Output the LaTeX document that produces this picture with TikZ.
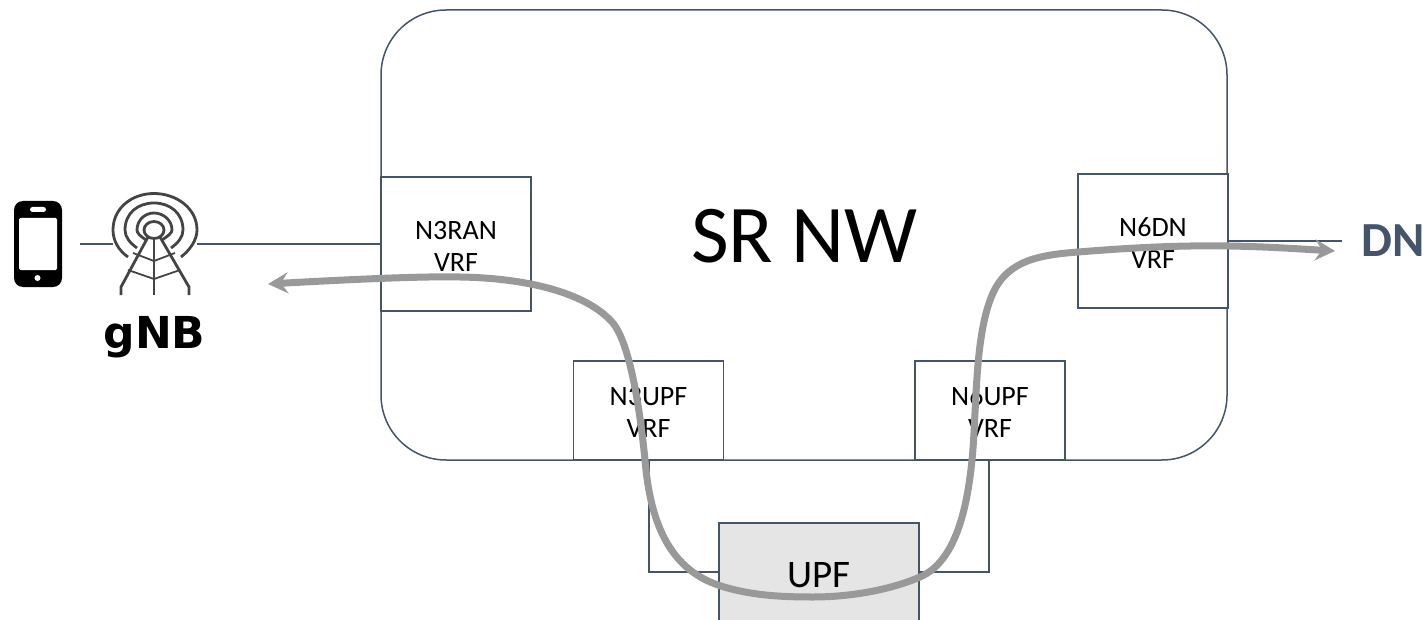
\documentclass[tikz,border=0pt]{standalone}
\usepackage{fontspec}
\setmainfont{Carlito}
\newfontfamily\dejavu{DejaVu Sans}
\usetikzlibrary{arrows.meta}
\definecolor{wire}{HTML}{44546A}
\definecolor{flow}{HTML}{999999}
\definecolor{upfgrey}{HTML}{E5E5E5}
\definecolor{towerc}{HTML}{444444}
\tikzset{
  wireline/.style={draw=wire,line width=1.5pt},
  vrfbox/.style={wireline,fill=white,minimum width=150pt,inner sep=0pt,outer sep=0pt,anchor=north west},
  vrftext/.style={inner sep=0pt,align=center,font=\fontsize{28}{32}\selectfont},
  flowtip/.tip={Stealth[length=20pt,width=21pt,inset=7pt]},
  flowline/.style={draw=flow,line width=7pt,flowtip-flowtip},
  towerline/.style={draw=towerc,line width=2.8pt},
  braceline/.style={draw=towerc,line width=1.8pt},
}
\begin{document}
\begin{tikzpicture}[x=1pt,y=-1pt]
\useasboundingbox (0,0) rectangle (1423,620);
\coordinate (uewire) at (80,244);
\coordinate (gnbleft) at (113,244);
\coordinate (gnbright) at (197,244);
\coordinate (dnwire) at (1342,241);
\coordinate (n3down) at (649,460);
\coordinate (n6down) at (989,460);
\coordinate (upfl) at (719,572);
\coordinate (upfr) at (919,572);
\node[wireline,fill=white,rounded corners=65pt,minimum width=846pt,minimum height=450pt,anchor=north west,inner sep=0pt,outer sep=0pt] (srnw) at (381,10) {};
\node[font=\fontsize{82}{90}\selectfont] (srlabel) at (804.5,236) {SR NW};
\node[vrfbox,minimum height=134pt] (n3ran) at (381,177) {};
\node[vrfbox,minimum height=99pt] (n3upf) at (573.5,361) {};
\node[vrfbox,minimum height=99pt] (n6upf) at (915,361) {};
\node[vrfbox,minimum height=134pt] (n6dn) at (1078,174) {};
\node[vrftext] (n3rantext) at (456,246) {N3RAN\\VRF};
\node[vrftext] (n3upftext) at (648.5,412) {N3UPF\\VRF};
\node[vrftext] (n6upftext) at (990,412) {N6UPF\\VRF};
\node[vrftext] (n6dntext) at (1153,243) {N6DN\\VRF};
\begin{scope}
\clip (0,0) rectangle (1423,620);
\node[wireline,fill=upfgrey,minimum width=200pt,minimum height=120pt,anchor=north west,inner sep=0pt,outer sep=0pt] (upf) at (719,523) {};
\end{scope}
\node[font=\fontsize{39}{44}\selectfont] (upflabel) at (819,575) {UPF};
\draw[wireline] (uewire) -- (gnbleft);
\draw[wireline] (gnbright) -- (n3ran.west |- gnbright);
\draw[wireline] (n6dn.east |- dnwire) -- (dnwire);
\draw[wireline] (n3down) |- (upfl);
\draw[wireline] (n6down) |- (upfr);
% phone
\node[fill=black,rounded corners=9pt,minimum width=48pt,minimum height=86pt,inner sep=0pt] (phone) at (38,244) {};
\fill[white,rounded corners=1.5pt] (19,218) rectangle (57,270);
\fill[white,rounded corners=2.5pt] (30,207) rectangle (46,212);
\fill[white] (37.5,278) circle (3pt);
% tower
\node[minimum size=0pt,inner sep=0pt] (tower) at (154,230) {};
\draw[towerline] (154,230) ellipse (10pt and 8.5pt);
\draw[towerline] (146,240) .. controls (140,236) and (137,233) .. (137,230) .. controls (137,220) and (145,213) .. (154,213) .. controls (163,213) and (172,220) .. (172,230) .. controls (172,233) and (168,236) .. (162,240);
\draw[towerline] (137,248) .. controls (130,243) and (125,237) .. (125,230) .. controls (125,213) and (138,203) .. (154,203) .. controls (170,203) and (183,213) .. (183,230) .. controls (183,237) and (178,243) .. (171,248);
\draw[towerline] (128,257) .. controls (118,250) and (113,240) .. (113,230) .. controls (113,208) and (132,193.5) .. (154,193.5) .. controls (176,193.5) and (197,208) .. (197,230) .. controls (197,240) and (190,250) .. (181,257);
\draw[towerline] (148,237) -- (121,287) -- (121,295);
\draw[towerline] (160,237) -- (189,287) -- (189,295);
\draw[towerline] (154,238) -- (154,295);
\draw[braceline] (133,253) -- (154,261) -- (175,253);
\draw[braceline] (128,270) -- (154,279) -- (180,270);
\node[font=\dejavu\bfseries\fontsize{44}{48}\selectfont] (gnb) at (154.5,337) {gNB};
\node[font=\bfseries\fontsize{49}{52}\selectfont,text=wire,anchor=west,inner sep=0pt] (dn) at (1361,241) {DN};
% flow
\coordinate (flowleft) at (268,284);
\coordinate (flowright) at (1335,251);
\draw[flowline] (flowleft) .. controls (340,280) and (420,276) .. (460,277)
 .. controls (525,278) and (585,292) .. (612,322)
 .. controls (630,342) and (640,410) .. (645,460)
 .. controls (650,520) and (668,568) .. (718,585)
 .. controls (750,596) and (785,597) .. (813,597)
 .. controls (850,597) and (890,590) .. (920,577)
 .. controls (955,562) and (967,510) .. (972,460)
 .. controls (977,410) and (974,335) .. (993,293)
 .. controls (1008,260) and (1040,255) .. (1078,252)
 .. controls (1116,249) and (1170,245) .. (1228,246)
 .. controls (1265,246.5) and (1300,249) .. (flowright);
\end{tikzpicture}
\end{document}
